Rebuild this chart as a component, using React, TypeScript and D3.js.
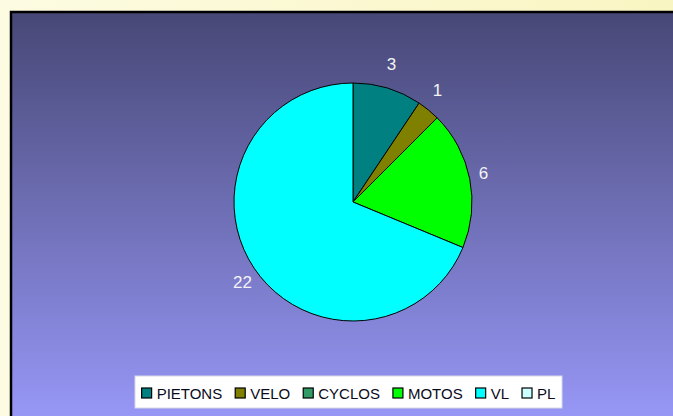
import { useEffect, useRef } from "react";
import * as d3 from "d3";

const categories = ["PIETONS", "VELO", "CYCLOS", "MOTOS", "VL", "PL"];
const values = [3, 1, 0, 6, 22, 0];
const sliceColors = ["#008080", "#808000", "#339966", "#00FF00", "#00FFFF", "#CCFFFF"];

const W = 673;
const H = 416;

export default function App() {
  const svgRef = useRef<SVGSVGElement>(null);

  useEffect(() => {
    if (!svgRef.current) return;
    const svg = d3.select(svgRef.current);
    svg.selectAll("*").remove();

    const defs = svg.append("defs");
    const bg = defs.append("linearGradient").attr("id", "bgGrad")
      .attr("x1", 0).attr("y1", 0).attr("x2", 1).attr("y2", 0);
    bg.append("stop").attr("offset", "0%").attr("stop-color", "#FDFBE2");
    bg.append("stop").attr("offset", "100%").attr("stop-color", "#F9F5C2");
    const pg = defs.append("linearGradient").attr("id", "panelGrad")
      .attr("x1", 0).attr("y1", 0).attr("x2", 0).attr("y2", 1);
    pg.append("stop").attr("offset", "0%").attr("stop-color", "#474776");
    pg.append("stop").attr("offset", "100%").attr("stop-color", "#9999FA");

    svg.append("rect").attr("width", W).attr("height", H).attr("fill", "url(#bgGrad)");

    // plot panel, runs off the right and bottom edge
    svg.append("rect")
      .attr("x", 11).attr("y", 12)
      .attr("width", W).attr("height", H)
      .attr("fill", "url(#panelGrad)")
      .attr("stroke", "#000").attr("stroke-width", 2.5);

    const cx = 353, cy = 202, r = 119;
    const data = categories.map((c, i) => ({ name: c, value: values[i], color: sliceColors[i] }));
    const pie = d3.pie<typeof data[0]>().sort(null).value(d => d.value);
    const arcs = pie(data);
    const arc = d3.arc<d3.PieArcDatum<typeof data[0]>>().innerRadius(0).outerRadius(r);

    const g = svg.append("g").attr("transform", `translate(${cx},${cy})`);
    g.selectAll("path")
      .data(arcs.filter(a => a.value > 0))
      .enter()
      .append("path")
      .attr("d", arc)
      .attr("fill", d => d.data.color)
      .attr("stroke", "#000")
      .attr("stroke-width", 1);

    g.selectAll("text.lbl")
      .data(arcs.filter(a => a.value > 0))
      .enter()
      .append("text")
      .attr("class", "lbl")
      .attr("x", d => Math.sin((d.startAngle + d.endAngle) / 2) * (r + 14))
      .attr("y", d => -Math.cos((d.startAngle + d.endAngle) / 2) * (r + 25))
      .attr("text-anchor", "middle")
      .attr("dominant-baseline", "central")
      .attr("font-family", "Liberation Sans, Arial, sans-serif")
      .attr("font-size", 17)
      .attr("fill", "#F4F4F4")
      .text(d => String(d.value));

    // legend
    const lx = 135, ly = 376, lw = 427, lh = 32;
    svg.append("rect")
      .attr("x", lx).attr("y", ly).attr("width", lw).attr("height", lh)
      .attr("fill", "#fff").attr("stroke", "#D8D8E8").attr("stroke-width", 1);

    const lg = svg.append("g");
    const items = lg.selectAll("g").data(data).enter().append("g");
    items.append("rect")
      .attr("width", 10).attr("height", 10)
      .attr("y", ly + lh / 2 - 4)
      .attr("fill", d => d.color)
      .attr("stroke", "#000").attr("stroke-width", 1.2);
    const texts = items.append("text")
      .attr("y", ly + lh / 2 + 1)
      .attr("dominant-baseline", "central")
      .attr("font-family", "Liberation Sans, Arial, sans-serif")
      .attr("font-size", 15)
      .attr("fill", "#0A0A20")
      .text(d => d.name);

    const widths: number[] = [];
    texts.each(function () { widths.push((this as SVGTextElement).getComputedTextLength()); });
    const gap = 13;
    const itemW = widths.map(w => 10 + 5 + w);
    const total = d3.sum(itemW) + gap * (itemW.length - 1);
    let x = lx + (lw - total) / 2;
    items.each(function (_, i) {
      d3.select(this).select("rect").attr("x", x);
      d3.select(this).select("text").attr("x", x + 15);
      x += itemW[i] + gap;
    });
  }, []);

  return (
    <div style={{ position: "absolute", left: 0, top: 0 }}>
      <svg ref={svgRef} width={W} height={H} style={{ display: "block" }}></svg>
    </div>
  );
}
